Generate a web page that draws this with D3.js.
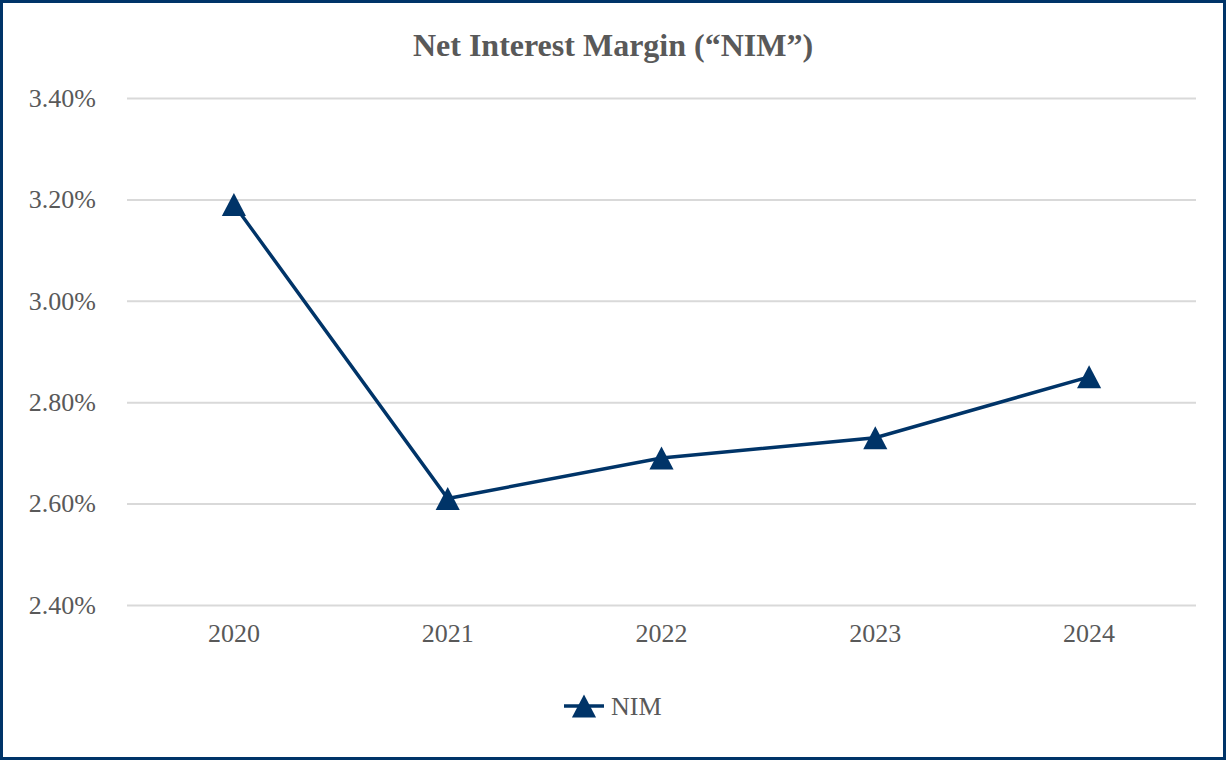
<!DOCTYPE html>
<html>
<head>
<meta charset="utf-8">
<script src="https://cdn.jsdelivr.net/npm/d3@7"></script>
<style>
  html, body { margin: 0; padding: 0; background: #fff; }
  svg { display: block; }
  text { font-family: 'Liberation Serif', 'Times New Roman', serif; }
</style>
</head>
<body>
<div id="container"></div>
<script>
const years = ['2020', '2021', '2022', '2023', '2024'];
const nimValues = [3.19, 2.61, 2.69, 2.73, 2.85];
const yTicks = [2.4, 2.6, 2.8, 3.0, 3.2, 3.4];
const seriesName = 'NIM';
const chartTitle = 'Net Interest Margin (\u201CNIM\u201D)';

const width = 1226, height = 760;
const navy = '#003468';
const grey = '#595959';

const svg = d3.select('#container')
    .append('svg')
    .attr('width', width)
    .attr('height', height);

// outer frame
svg.append('rect')
    .attr('x', 1.5).attr('y', 1.5)
    .attr('width', width - 3).attr('height', height - 3)
    .attr('fill', '#fff')
    .attr('stroke', navy)
    .attr('stroke-width', 3);

const plot = { left: 127, right: 1196, top: 98, bottom: 605 };

const x = d3.scaleBand()
    .domain(years)
    .range([plot.left, plot.right]);

const y = d3.scaleLinear()
    .domain([2.4, 3.4])
    .range([plot.bottom, plot.top]);

svg.append('text')
    .attr('x', 613)
    .attr('y', 56)
    .attr('text-anchor', 'middle')
    .attr('font-weight', 'bold')
    .attr('font-size', 32)
    .attr('fill', grey)
    .text(chartTitle);

// gridlines + y labels
const yAxis = d3.axisLeft(y)
    .tickValues(yTicks)
    .tickSize(-(plot.right - plot.left))
    .tickPadding(31)
    .tickFormat(d => d.toFixed(2) + '%');

const gy = svg.append('g')
    .attr('transform', `translate(${plot.left},0)`)
    .call(yAxis);
gy.select('.domain').remove();
gy.selectAll('.tick line').attr('stroke', '#d9d9d9').attr('stroke-width', 2);
gy.attr('font-family', null).attr('font-size', 26);
gy.selectAll('.tick text').attr('fill', grey);

const xAxis = d3.axisBottom(x).tickSize(0).tickPadding(19);
const gx = svg.append('g')
    .attr('transform', `translate(0,${plot.bottom})`)
    .call(xAxis);
gx.select('.domain').remove();
gx.attr('font-family', null).attr('font-size', 26);
gx.selectAll('.tick text').attr('fill', grey);

const points = years.map((yr, i) => ({ year: yr, value: nimValues[i] }));

const line = d3.line()
    .x(d => x(d.year) + x.bandwidth() / 2)
    .y(d => y(d.value));

svg.append('path')
    .datum(points)
    .attr('d', line)
    .attr('fill', 'none')
    .attr('stroke', navy)
    .attr('stroke-width', 3.5);

// triangle centred on its bounding box, like the spreadsheet marker
const boxTriangle = {
    draw(ctx, size) {
        const h = Math.sqrt(size) / 2;
        ctx.moveTo(0, -h);
        ctx.lineTo(h * 1.05, h);
        ctx.lineTo(-h * 1.05, h);
        ctx.closePath();
    }
};
const tri = d3.symbol().type(boxTriangle).size(23 * 23);

svg.selectAll('.marker')
    .data(points)
    .enter()
    .append('path')
    .attr('class', 'marker')
    .attr('d', tri)
    .attr('transform', d => `translate(${x(d.year) + x.bandwidth() / 2},${y(d.value)})`)
    .attr('fill', navy);

// legend
const lg = svg.append('g').attr('transform', 'translate(584,706)');
lg.append('line')
    .attr('x1', -20).attr('x2', 20)
    .attr('stroke', navy).attr('stroke-width', 3.5);
lg.append('path').attr('d', tri).attr('fill', navy);
lg.append('text')
    .attr('x', 27).attr('y', 9)
    .attr('font-size', 26)
    .attr('fill', grey)
    .text(seriesName);
</script>
</body>
</html>
